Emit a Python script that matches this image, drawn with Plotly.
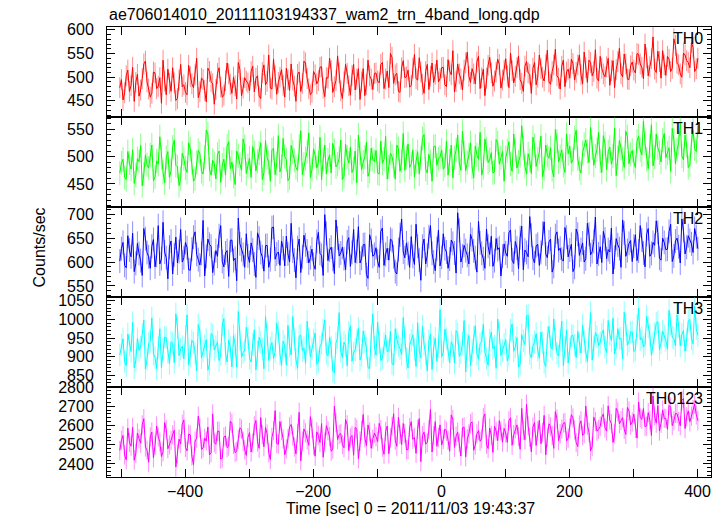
import plotly.graph_objects as go
from plotly.subplots import make_subplots

TITLE = "ae706014010_20111103194337_wam2_trn_4band_long.qdp"
X_TITLE = "Time [sec] 0 = 2011/11/03 19:43:37"
Y_TITLE = "Counts/sec"

# two interleaved sample grids: A at -502 + 5k, B at -499.5 + 5k
TIME_START_A = -502
TIME_START_B = -499.5
TIME_STEP = 5

BANDS = ["TH0", "TH1", "TH2", "TH3", "TH0123"]

TH0_A = [478, 452, 503, 470, 521, 489, 460, 497, 534, 475,
         466, 509, 481, 445, 492, 517, 470, 488, 455, 527,
         484, 463, 501, 478, 540, 469, 495, 448, 512, 486,
         474, 520, 458, 493, 507, 466, 482, 531, 461, 499,
         488, 512, 469, 503, 455, 526, 491, 477, 538, 464,
         500, 483, 519, 472, 494, 449, 511, 487, 530, 476,
         468, 505, 493, 522, 459, 498, 514, 480, 545, 471,
         490, 508, 462, 527, 496, 453, 518, 485, 503, 474,
         509, 488, 531, 496, 478, 542, 505, 470, 520, 499,
         515, 483, 548, 494, 511, 466, 527, 502, 489, 536,
         497, 521, 480, 513, 556, 491, 507, 473, 530, 502,
         518, 486, 544, 499, 461, 525, 509, 492, 538, 477,
         515, 503, 551, 488, 520, 495, 470, 533, 506, 519,
         484, 547, 500, 526, 490, 512, 559, 498, 523, 480,
         517, 538, 494, 526, 505, 553, 489, 531, 512, 498,
         544, 507, 522, 483, 535, 516, 561, 501, 528, 495,
         532, 509, 548, 521, 570, 503, 539, 517, 555, 498,
         526, 544, 512, 581, 529, 507, 551, 535, 520, 563, 518]
TH0_B = [495, 467, 515, 482, 449, 506, 473, 528, 490, 458,
         511, 476, 499, 536, 463, 487, 520, 451, 494, 480,
         468, 525, 486, 505, 457, 498, 472, 519, 491, 443,
         508, 479, 462, 530, 485, 500, 454, 516, 477, 492,
         471, 523, 498, 460, 510, 484, 547, 475, 502, 489,
         516, 458, 495, 528, 481, 506, 470, 534, 497, 463,
         512, 486, 521, 477, 499, 540, 468, 493, 509, 455,
         527, 482, 504, 473, 518, 490, 461, 536, 496, 508,
         492, 527, 476, 513, 550, 487, 508, 468, 535, 501,
         479, 519, 497, 541, 485, 512, 474, 530, 506, 490,
         520, 484, 537, 505, 469, 528, 496, 515, 553, 489,
         507, 532, 476, 517, 498, 542, 481, 511, 527, 494,
         539, 478, 514, 502, 545, 487, 523, 509, 466, 531,
         500, 518, 492, 557, 485, 526, 503, 475, 536, 511,
         498, 529, 510, 547, 486, 520, 536, 503, 558, 492,
         519, 501, 540, 514, 478, 533, 507, 549, 496, 524,
         515, 550, 528, 497, 541, 522, 585, 510, 533, 556,
         504, 538, 519, 567, 526, 500, 547, 531, 573, 512, 540]

TH1_A = [470, 495, 458, 488, 512, 466, 491, 447, 503, 479,
         521, 463, 486, 498, 452, 509, 474, 530, 481, 460,
         496, 471, 514, 455, 489, 505, 468, 548, 477, 493,
         459, 510, 484, 466, 527, 490, 449, 501, 475, 518,
         483, 462, 507, 491, 525, 470, 498, 455, 515, 487,
         472, 533, 494, 461, 508, 480, 519, 467, 496, 543,
         476, 502, 489, 458, 521, 493, 470, 511, 486, 530,
         464, 499, 517, 478, 452, 506, 490, 526, 473, 495,
         511, 468, 488, 537, 481, 500, 459, 514, 492, 475,
         523, 486, 463, 509, 497, 540, 470, 491, 518, 484,
         499, 477, 528, 492, 461, 512, 488, 546, 474, 503,
         481, 519, 495, 466, 532, 489, 507, 472, 525, 498,
         455, 510, 486, 541, 479, 501, 516, 468, 493, 535,
         482, 508, 463, 521, 497, 476, 549, 490, 512, 471,
         505, 488, 534, 496, 470, 522, 509, 553, 484, 513,
         492, 538, 476, 517, 501, 465, 529, 495, 546, 487,
         511, 480, 537, 503, 524, 478, 558, 499, 516, 490,
         542, 506, 473, 531, 512, 560, 494, 520, 485, 548, 509]
TH1_B = [488, 462, 509, 477, 451, 496, 520, 468, 485, 503,
         456, 492, 536, 471, 498, 462, 517, 484, 447, 506,
         479, 525, 490, 460, 511, 473, 499, 541, 466, 487,
         504, 453, 495, 519, 478, 464, 510, 486, 532, 469,
         497, 518, 474, 506, 458, 529, 489, 512, 467, 538,
         482, 500, 456, 520, 493, 475, 547, 486, 509, 462,
         514, 479, 535, 495, 468, 503, 524, 481, 497, 458,
         522, 488, 471, 510, 539, 476, 499, 464, 515, 491,
         470, 528, 495, 459, 506, 484, 521, 473, 542, 498,
         480, 512, 491, 468, 533, 477, 504, 455, 519, 496,
         512, 484, 466, 521, 498, 539, 475, 507, 489, 525,
         461, 503, 544, 480, 514, 494, 470, 531, 486, 509,
         498, 527, 473, 511, 490, 556, 482, 505, 469, 520,
         495, 537, 478, 502, 516, 463, 528, 500, 484, 541,
         519, 494, 548, 478, 507, 530, 489, 516, 501, 544,
         471, 523, 509, 486, 552, 498, 515, 480, 536, 504,
         490, 528, 512, 565, 495, 519, 483, 541, 507, 530,
         498, 516, 551, 487, 525, 501, 539, 480, 527, 514, 556]

TH2_A = [602, 641, 588, 625, 660, 597, 618, 572, 649, 611,
         633, 590, 676, 607, 621, 565, 644, 615, 598, 668,
         609, 630, 583, 652, 616, 594, 687, 612, 637, 578,
         624, 655, 601, 619, 570, 646, 608, 692, 626, 589,
         613, 640, 596, 661, 620, 581, 635, 605, 673, 617,
         593, 629, 654, 600, 623, 567, 648, 611, 636, 598,
         627, 585, 662, 614, 699, 603, 631, 576, 650, 619,
         607, 642, 591, 668, 622, 598, 636, 574, 657, 612,
         630, 589, 671, 616, 604, 645, 580, 626, 690, 609,
         618, 653, 595, 633, 562, 648, 614, 676, 600, 628,
         592, 659, 621, 606, 639, 577, 666, 613, 624, 596,
         647, 609, 685, 618, 587, 633, 654, 603, 626, 571,
         638, 612, 667, 597, 629, 651, 584, 620, 695, 608,
         634, 593, 660, 617, 642, 579, 655, 624, 606, 672,
         611, 637, 589, 658, 626, 600, 681, 615, 643, 596,
         632, 664, 607, 621, 575, 649, 628, 688, 612, 639,
         601, 657, 623, 646, 590, 670, 618, 635, 662, 604,
         641, 627, 679, 613, 650, 598, 666, 631, 645, 620, 653]
TH2_B = [628, 593, 655, 611, 580, 639, 603, 670, 620, 587,
         647, 614, 596, 683, 609, 631, 575, 652, 622, 600,
         641, 584, 627, 663, 605, 618, 571, 648, 633, 597,
         612, 676, 590, 624, 645, 603, 561, 638, 616, 659,
         599, 625, 568, 650, 611, 634, 589, 672, 606, 621,
         644, 592, 617, 681, 604, 630, 578, 656, 623, 609,
         595, 643, 618, 572, 660, 625, 606, 688, 613, 631,
         584, 651, 620, 599, 674, 608, 637, 566, 645, 616,
         602, 664, 593, 629, 648, 611, 575, 657, 621, 640,
         589, 612, 679, 604, 633, 596, 653, 618, 582, 667,
         610, 628, 587, 646, 619, 703, 600, 635, 614, 658,
         623, 579, 640, 607, 669, 616, 591, 649, 630, 612,
         619, 661, 604, 643, 586, 675, 625, 611, 656, 598,
         637, 620, 684, 609, 648, 591, 663, 629, 602, 652,
         625, 580, 669, 614, 640, 607, 658, 622, 694, 617,
         599, 648, 626, 671, 610, 636, 589, 661, 624, 645,
         633, 603, 676, 619, 658, 612, 641, 686, 608, 650,
         626, 664, 601, 644, 632, 690, 617, 655, 638, 670, 628]

TH3_A = [905, 948, 876, 931, 992, 889, 917, 960, 867, 936,
         1004, 898, 925, 871, 953, 912, 940, 884, 978, 921,
         894, 1012, 903, 937, 862, 969, 915, 946, 880, 958,
         927, 890, 985, 909, 944, 873, 933, 1021, 899, 918,
         951, 886, 972, 913, 939, 868, 960, 924, 895, 990,
         907, 942, 878, 929, 1008, 893, 955, 916, 882, 947,
         921, 964, 887, 935, 998, 902, 926, 857, 950, 914,
         939, 876, 983, 910, 945, 891, 969, 923, 868, 1015,
         904, 937, 896, 958, 917, 881, 975, 930, 906, 952,
         870, 944, 919, 991, 897, 933, 862, 961, 925, 889,
         1026, 912, 948, 884, 929, 970, 901, 936, 859, 957,
         918, 983, 894, 940, 913, 877, 966, 928, 1001, 903,
         934, 889, 972, 915, 951, 880, 943, 1009, 908, 929,
         962, 896, 938, 874, 981, 920, 947, 902, 995, 925,
         883, 956, 931, 968, 910, 941, 887, 1018, 927, 954,
         938, 972, 911, 959, 1003, 926, 948, 895, 985, 942,
         967, 918, 1030, 951, 933, 979, 904, 962, 994, 937,
         956, 921, 988, 949, 1012, 929, 970, 946, 1000, 935, 975]
TH3_B = [932, 887, 961, 914, 870, 949, 926, 998, 893, 941,
         907, 868, 975, 920, 951, 882, 936, 1015, 903, 928,
         955, 879, 944, 910, 986, 897, 930, 864, 962, 918,
         940, 906, 1002, 886, 925, 957, 872, 947, 911, 979,
         896, 934, 865, 952, 921, 1008, 890, 938, 914, 966,
         877, 929, 984, 905, 946, 869, 958, 924, 995, 900,
         944, 880, 927, 972, 909, 953, 861, 937, 1018, 898,
         930, 965, 888, 919, 976, 904, 941, 871, 955, 926,
         993, 890, 935, 913, 968, 878, 947, 922, 1005, 895,
         931, 959, 874, 916, 982, 907, 943, 866, 950, 928,
         900, 974, 919, 940, 883, 962, 911, 997, 932, 876,
         953, 908, 935, 987, 895, 945, 922, 869, 964, 917,
         946, 905, 988, 926, 873, 959, 933, 1012, 897, 940,
         918, 966, 885, 952, 928, 1001, 909, 944, 876, 971,
         922, 957, 898, 935, 984, 913, 949, 891, 965, 930,
         961, 925, 997, 943, 908, 975, 950, 1019, 931, 966,
         914, 984, 945, 926, 1008, 958, 937, 990, 919, 969,
         944, 1024, 952, 930, 983, 960, 915, 996, 948, 1035, 957]

TH0123_A = [2470, 2548, 2421, 2512, 2590, 2455, 2531, 2603, 2488, 2409,
            2566, 2497, 2540, 2438, 2615, 2479, 2523, 2576, 2452, 2505,
            2629, 2468, 2551, 2396, 2534, 2587, 2483, 2519, 2447, 2660,
            2502, 2571, 2430, 2545, 2493, 2611, 2459, 2528, 2580, 2474,
            2537, 2462, 2598, 2515, 2641, 2489, 2556, 2423, 2574, 2506,
            2620, 2531, 2478, 2593, 2545, 2452, 2668, 2519, 2562, 2497,
            2585, 2440, 2549, 2610, 2513, 2572, 2466, 2700, 2527, 2558,
            2484, 2603, 2536, 2445, 2581, 2518, 2657, 2495, 2566, 2529,
            2542, 2611, 2487, 2569, 2453, 2595, 2524, 2642, 2501, 2558,
            2475, 2620, 2537, 2580, 2412, 2565, 2511, 2683, 2548, 2492,
            2603, 2527, 2570, 2466, 2631, 2545, 2509, 2588, 2437, 2556,
            2619, 2498, 2574, 2532, 2660, 2480, 2549, 2597, 2521, 2572,
            2585, 2512, 2640, 2551, 2603, 2476, 2574, 2710, 2538, 2592,
            2496, 2627, 2563, 2447, 2609, 2548, 2672, 2521, 2581, 2615,
            2534, 2656, 2577, 2490, 2624, 2559, 2601, 2468, 2643, 2570,
            2596, 2660, 2571, 2628, 2512, 2689, 2609, 2641, 2553, 2675,
            2618, 2585, 2722, 2632, 2594, 2667, 2548, 2650, 2703, 2611,
            2637, 2580, 2695, 2624, 2661, 2598, 2740, 2645, 2619, 2683, 2655]
TH0123_B = [2523, 2447, 2586, 2492, 2419, 2561, 2508, 2635, 2471, 2540,
            2432, 2597, 2515, 2463, 2578, 2499, 2551, 2384, 2529, 2606,
            2486, 2555, 2441, 2519, 2648, 2476, 2534, 2592, 2458, 2511,
            2569, 2425, 2540, 2485, 2622, 2502, 2466, 2588, 2517, 2444,
            2563, 2509, 2626, 2481, 2552, 2590, 2459, 2538, 2677, 2502,
            2573, 2448, 2531, 2605, 2488, 2559, 2416, 2582, 2524, 2646,
            2495, 2567, 2511, 2435, 2599, 2542, 2478, 2614, 2553, 2500,
            2631, 2469, 2548, 2590, 2427, 2575, 2536, 2603, 2481, 2561,
            2516, 2578, 2450, 2597, 2535, 2661, 2492, 2553, 2610, 2474,
            2589, 2528, 2455, 2636, 2547, 2503, 2577, 2462, 2620, 2539,
            2498, 2581, 2523, 2655, 2486, 2565, 2441, 2592, 2530, 2609,
            2471, 2556, 2518, 2641, 2502, 2587, 2460, 2571, 2625, 2513,
            2561, 2624, 2497, 2583, 2542, 2689, 2526, 2598, 2463, 2615,
            2571, 2505, 2652, 2540, 2593, 2481, 2634, 2557, 2612, 2520,
            2586, 2639, 2511, 2603, 2548, 2701, 2565, 2492, 2620, 2579,
            2643, 2587, 2702, 2610, 2556, 2671, 2625, 2580, 2694, 2603,
            2659, 2534, 2640, 2688, 2597, 2627, 2753, 2612, 2571, 2680,
            2636, 2704, 2599, 2662, 2620, 2730, 2584, 2676, 2648, 2712, 2625]

ERRORS = [22, 22, 25, 30, 50]

SERIES = [(TH0_A, TH0_B), (TH1_A, TH1_B), (TH2_A, TH2_B), (TH3_A, TH3_B), (TH0123_A, TH0123_B)]
COLORS = ["#ff0000", "#00ff00", "#0000ff", "#00ffff", "#ff00ff"]
ERR_COLORS = ["rgba(255,0,0,0.45)", "rgba(0,255,0,0.45)", "rgba(0,0,255,0.45)",
              "rgba(0,255,255,0.45)", "rgba(255,0,255,0.45)"]
Y_RANGES = [[416, 606], [408, 572], [527, 715], [819, 1060], [2332, 2800]]
Y_DTICK = [50, 50, 50, 50, 100]
Y_MINOR = [10, 10, 10, 10, 20]
X_TICKS = [-500, -400, -300, -200, -100, 0, 100, 200, 300, 400]
X_LABELS = ["", "\u2212400", "", "\u2212200", "", "0", "", "200", "", "400"]

FONT = "Liberation Sans, Arial, sans-serif"

fig = make_subplots(rows=5, cols=1, shared_xaxes=True, vertical_spacing=0)

for i, ((va, vb), col, ecol, err) in enumerate(zip(SERIES, COLORS, ERR_COLORS, ERRORS)):
    pts = [(TIME_START_A + TIME_STEP * k, v) for k, v in enumerate(va)]
    pts += [(TIME_START_B + TIME_STEP * k, v) for k, v in enumerate(vb)]
    pts.sort()
    t = [p[0] for p in pts]
    y = [p[1] for p in pts]
    fig.add_trace(go.Scatter(
        x=t, y=y, mode="lines",
        line=dict(color=col, width=1),
        error_y=dict(type="constant", value=err, color=ecol, thickness=1, width=0),
        showlegend=False, hoverinfo="skip"), row=i + 1, col=1)

for i in range(5):
    r = i + 1
    fig.update_yaxes(row=r, col=1, range=Y_RANGES[i], dtick=Y_DTICK[i],
                     tick0=0, ticks="inside", ticklen=8, tickwidth=1,
                     tickcolor="black", showline=True, linecolor="black",
                     linewidth=1, mirror="allticks", showgrid=False, zeroline=False,
                     ticklabelstandoff=9,
                     minor=dict(dtick=Y_MINOR[i], ticks="inside", ticklen=4,
                                tickcolor="black", showgrid=False),
                     tickfont=dict(family=FONT, size=16, color="black"))
    fig.update_xaxes(row=r, col=1, range=[-522, 421], tickvals=X_TICKS,
                     ticktext=X_LABELS if r == 5 else [""] * len(X_TICKS),
                     showticklabels=(r == 5),
                     ticks="inside", ticklen=8, tickwidth=1, tickcolor="black",
                     showline=True, linecolor="black", linewidth=1,
                     mirror="allticks", showgrid=False, zeroline=False,
                     tickfont=dict(family=FONT, size=16, color="black"))
    fig.add_annotation(text=BANDS[i], xref="x domain" if r == 1 else f"x{r} domain",
                       yref="y domain" if r == 1 else f"y{r} domain",
                       x=0.99, y=0.875, xanchor="right", yanchor="middle",
                       showarrow=False, font=dict(family=FONT, size=16, color="black"))

fig.add_annotation(text=TITLE, xref="paper", yref="paper", x=0, y=1.027,
                   xanchor="left", yanchor="middle", showarrow=False,
                   font=dict(family=FONT, size=16, color="black"))
fig.add_annotation(text=X_TITLE, xref="paper", yref="paper", x=0.503, y=-0.069,
                   xanchor="center", yanchor="middle", showarrow=False,
                   font=dict(family=FONT, size=16, color="black"))
fig.add_annotation(text=Y_TITLE, xref="paper", yref="paper", x=-0.111, y=0.51,
                   xanchor="center", yanchor="middle", textangle=-90, showarrow=False,
                   font=dict(family=FONT, size=16, color="black"))

fig.update_layout(width=723, height=516, margin=dict(l=107, r=12, t=27, b=39),
                  paper_bgcolor="white", plot_bgcolor="white",
                  font=dict(family=FONT, size=16, color="black"))

fig.write_html("out.html", config={"displayModeBar": False},
               post_script="document.body.style.margin='0px';document.body.style.overflow='hidden';")
